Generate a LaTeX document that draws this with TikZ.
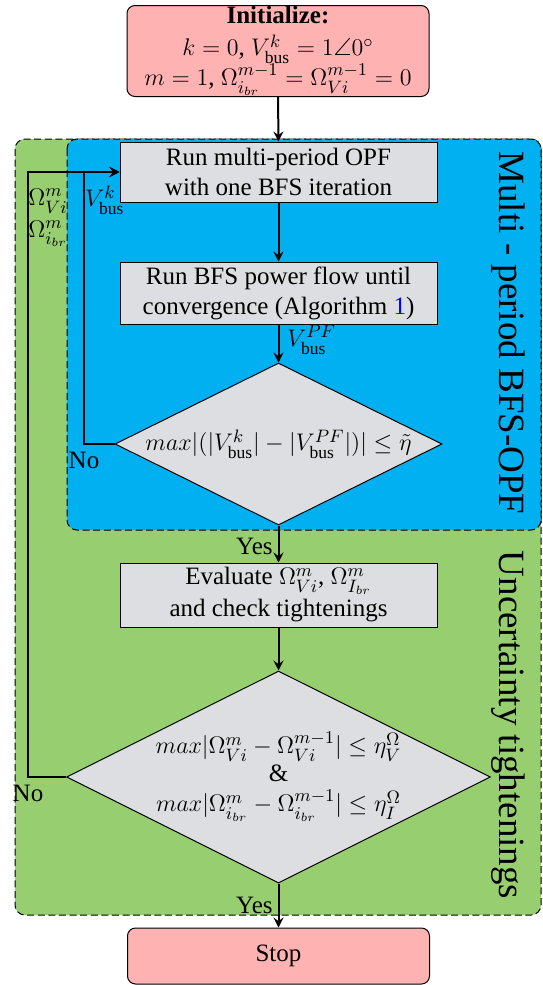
\documentclass[tikz,border=0pt]{standalone}
\usepackage{amsmath,amssymb}
\usepackage[no-math]{fontspec}
\setmainfont{Liberation Serif}
\usetikzlibrary{arrows.meta,shapes.geometric,calc}
\definecolor{pinkfill}{RGB}{255,178,178}
\definecolor{grayfill}{RGB}{221,222,225}
\definecolor{bluereg}{RGB}{0,176,240}
\definecolor{greenreg}{RGB}{150,206,112}
\begin{document}
\begin{tikzpicture}[x=0.5pt,y=-0.5pt,
  every node/.style={font=\fontsize{12.5}{15}\selectfont},
  endbox/.style={draw, fill=pinkfill, rounded corners=4pt, line width=0.5pt, minimum width=151pt, align=center, inner sep=0pt},
  procbox/.style={draw, fill=grayfill, line width=0.5pt, minimum width=158.5pt, align=center, inner sep=0pt},
  decbox/.style={draw, fill=grayfill, diamond, aspect=2, line width=0.5pt, align=center, inner sep=0pt},
  region/.style={dash pattern=on 3.5pt off 1.8pt, line width=0.5pt, rounded corners=5pt},
  conn/.style={line width=1pt, -{Stealth[length=5pt,width=5pt,inset=1.8pt]}},
  reglabel/.style={rotate=-90, font=\fontsize{18.5}{22}\selectfont},
  lbl/.style={inner sep=1pt}]
\useasboundingbox (0,0) rectangle (542,985);
% regions
\draw[region, fill=greenreg] (15,139) rectangle (541,915);
\draw[region, fill=bluereg] (67,139) rectangle (541,530);
\node[reglabel] (lblA) at (508,333) {Multi - period BFS-OPF};
\node[reglabel] (lblB) at (508,725) {Uncertainty tightenings};
% nodes
\node[endbox, minimum height=45.5pt] (init) at (278,51) {\textbf{Initialize:}\\[1pt] $k=0$, $V^{k}_{\text{bus}}=1\angle0^{\circ}$\\[0pt] $m=1$, $\Omega^{m-1}_{i_{br}}=\Omega^{m-1}_{Vi}=0$};
\node[procbox, minimum height=30pt] (opf) at (278.5,172) {Run multi-period OPF\\ with one BFS iteration};
\node[procbox, minimum height=31pt] (bfs) at (278.5,293) {Run BFS power flow until\\ convergence (Algorithm {\color{blue}1})};
\node[decbox, minimum width=163.5pt, minimum height=81pt] (d1) at (278.5,444) {$max|(|V^{k}_{\text{bus}}|-|V^{PF}_{\text{bus}}|)|\leq\tilde{\eta}$};
\node[procbox, minimum height=32pt] (eval) at (278.5,595) {Evaluate $\Omega^{m}_{Vi}$, $\Omega^{m}_{I_{br}}$\\[1pt] and check tightenings};
\node[decbox, minimum width=210pt, minimum height=104.5pt] (d2) at (278.5,777) {$max|\Omega^{m}_{Vi}-\Omega^{m-1}_{Vi}|\leq\eta^{\Omega}_{V}$\\[-1pt] \&\\[0pt] $max|\Omega^{m}_{i_{br}}-\Omega^{m-1}_{i_{br}}|\leq\eta^{\Omega}_{I}$};
\node[endbox, minimum height=28pt] (stop) at (278.5,956) {Stop};
% coordinates for loops
\coordinate (c1) at (84,444);
\coordinate (c2) at (28,777);
% connectors
\draw[conn] (init.south) -- (opf.north);
\draw[conn] (opf.south) -- (bfs.north);
\draw[conn] (bfs.south) -- (d1.north);
\draw[conn] (d1.south) -- (eval.north);
\draw[conn] (eval.south) -- (d2.north);
\draw[conn] (d2.south) -- (stop.north);
\draw[conn] (d1.west) -- (c1) |- (opf.west);
\draw[conn] (d2.west) -- (c2) |- (opf.west);
% labels
\node[lbl, anchor=west] (vpf) at (285,340) {$V^{PF}_{\text{bus}}$};
\node[lbl] (vk) at (105,200) {$V^{k}_{\text{bus}}$};
\node[lbl, align=center] (om) at (48,218) {$\Omega^{m}_{Vi}$\\[1pt] $\Omega^{m}_{i_{br}}$};
\node[lbl] (no1) at (84,460) {No};
\node[lbl] (no2) at (28,793) {No};
\node[lbl, anchor=east] (yes1) at (275,546) {Yes};
\node[lbl, anchor=east] (yes2) at (275,905) {Yes};
\end{tikzpicture}
\end{document}
